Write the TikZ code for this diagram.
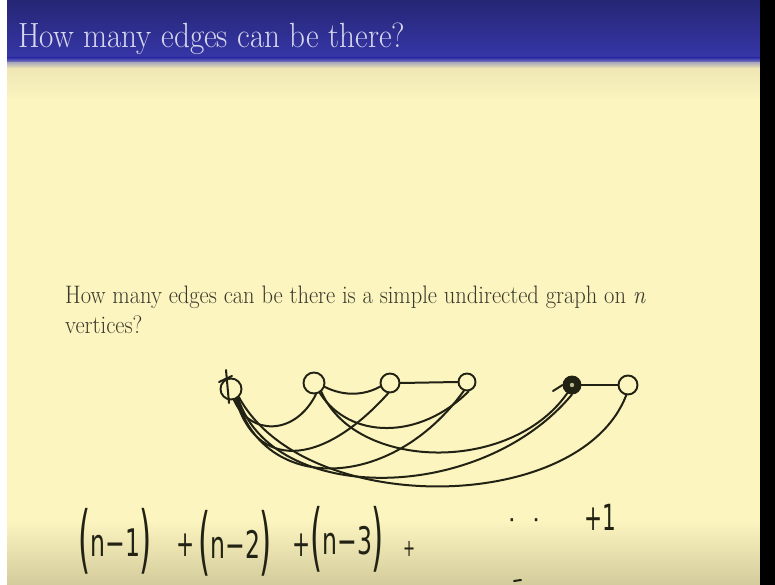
\documentclass[tikz,border=0pt]{standalone}
\usepackage{fontspec}
\usepackage{graphicx}
\newfontfamily\hand{DejaVu Sans}
\definecolor{cream}{HTML}{FCF5C0}
\definecolor{creamdark}{HTML}{D3CB9B}
\definecolor{creamedge}{HTML}{EDE4B2}
\definecolor{titletop}{HTML}{262675}
\definecolor{titlebot}{HTML}{3636A8}
\definecolor{titleline}{HTML}{8C8CC0}
\definecolor{titletext}{HTML}{D6D6EE}
\definecolor{bodytext}{HTML}{3A3A2C}
\definecolor{ink}{HTML}{222214}
\newcommand\hwp[1]{\scalebox{0.42}[1]{\fontsize{74}{74}\selectfont\hand #1}}
\newcommand\hwt[1]{\raisebox{8pt}{\scalebox{0.62}[1]{\fontsize{38}{38}\selectfont\hand #1}}}
\newcommand\hwplus[1]{\scalebox{0.6}[1]{\fontsize{#1}{#1}\selectfont\hand +}}
\tikzset{
  vtx/.style={circle, draw=ink, line width=1.9pt, inner sep=0pt, minimum size=#1},
  edge/.style={draw=ink, line width=2pt, line cap=round},
  hw/.style={anchor=base west, inner sep=0pt, text=ink},
  txt/.style={anchor=base west, inner sep=0pt, text=bodytext}
}
\begin{document}
\begin{tikzpicture}[x=1pt,y=-1pt]
\useasboundingbox (0,0) rectangle (775,585);
% background
\fill[white] (0,0) rectangle (7,585);
\fill[cream] (7,60) rectangle (760,585);
\shade[top color=creamedge, bottom color=cream] (7,64) rectangle (760,100);
\shade[top color=cream, bottom color=creamdark] (7,520) rectangle (760,585);
\shade[top color=titletop, bottom color=titlebot] (7,0) rectangle (760,58);
\shade[top color=titlebot, bottom color=titleline] (7,58) rectangle (760,63);
\shade[top color=titleline!60!creamedge, bottom color=creamedge] (7,63) rectangle (760,68);
\fill[black] (760,0) rectangle (775,585);
% title
\node[anchor=base west, inner sep=0pt, text=titletext] (title) at (18,48)
  {\scalebox{0.89}[1]{\fontsize{35}{40}\selectfont How many edges can be there?}};
% question
\node[txt] (q1) at (65,303)
  {\scalebox{0.89}[1]{\fontsize{25.3}{30}\selectfont How many edges can be there is a simple undirected graph on \textit{n}}};
\node[txt] (q2) at (65,333)
  {\scalebox{0.89}[1]{\fontsize{25.3}{30}\selectfont vertices?}};
% vertices
\node[vtx=21pt] (v1) at (231,389) {};
\node[vtx=21pt] (v2) at (314,383) {};
\node[vtx=19pt] (v3) at (390,383) {};
\node[vtx=17pt] (v4) at (467,382) {};
\node[vtx=17pt, fill=ink] (v5) at (572,385) {};
\node[vtx=19pt] (v6) at (628,385) {};
\fill[cream!70!ink] (v5.center) circle (2.2pt);
% marks on vertices
\draw[edge] (226,370) -- (229,403);
\draw[edge] (219,382) -- (232,376);
\draw[edge] (553,391) -- (v5.west);
% straight edges
\draw[edge] (v2.-20) .. controls (345,397) and (365,395) .. (v3.-160);
\draw[edge] (v3.east) -- (v4.west);
\draw[edge] (v5.east) -- (v6.west);
% curved edges from v1
\draw[edge] (v1.-75) .. controls (250,436) and (295,436) .. (v2.-80);
\draw[edge] (v1.-65) .. controls (256,469) and (320,469) .. (v3.-100);
\draw[edge] (v1.-58) .. controls (263,493) and (390,493) .. (v4.-110);
\draw[edge] (v1.-52) .. controls (272,505) and (480,505) .. (v5.-90);
\draw[edge] (v1.-46) .. controls (305,518) and (580,515) .. (v6.-100);
% curved edges from v2
\draw[edge] (v2.-60) .. controls (350,440) and (420,440) .. (v4.-80);
\draw[edge] (v2.-50) .. controls (355,470) and (510,475) .. (v5.-120);
% formula
\node[hw] (t1) at (78,564) {\hwp{(}\hwt{n−1}\hwp{)}};
\node[hw] (p1) at (176,556) {\hwplus{36}};
\node[hw] (t2) at (198,566) {\hwp{(}\hwt{n−2}\hwp{)}};
\node[hw] (p2) at (292,556) {\hwplus{36}};
\node[hw] (t3) at (310,562) {\hwp{(}\hwt{n−3}\hwp{)}};
\node[hw] (p3) at (403,556) {\hwplus{24}};
\node[hw] (dots) at (508,528) {\fontsize{24}{24}\selectfont\hand · \hspace{9pt}·};
\node[hw] (last) at (584,530) {\scalebox{0.6}[1]{\fontsize{36}{36}\selectfont\hand +1}};
\draw[edge] (514,581) -- (521,580);
\end{tikzpicture}
\end{document}
